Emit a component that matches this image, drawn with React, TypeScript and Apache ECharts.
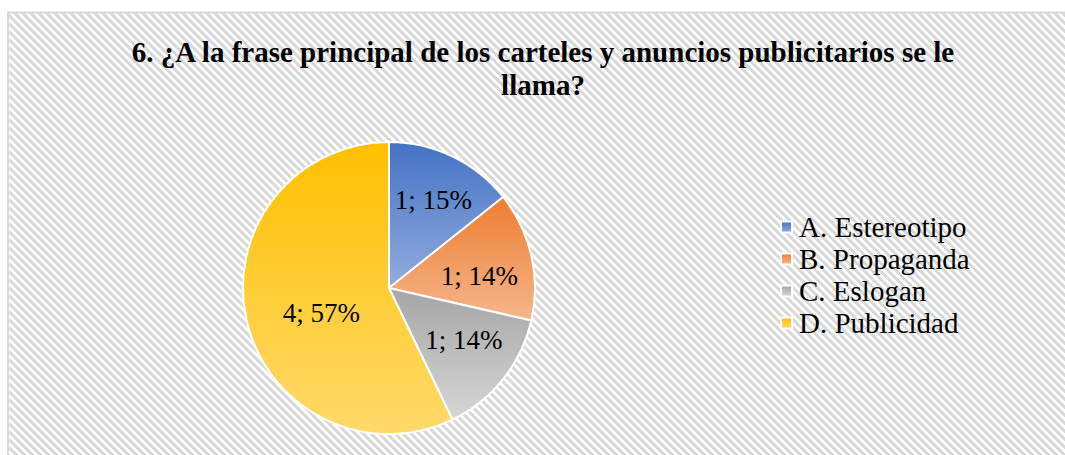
import React, { useEffect, useRef } from "react";
import * as echarts from "echarts";

const TITLE_LINES = ["6. ¿A la frase principal de los carteles y anuncios publicitarios se le", "llama?"];
const CATEGORIES = ["A. Estereotipo", "B. Propaganda", "C. Eslogan", "D. Publicidad"];
const VALUES = [1, 1, 1, 4];
const TOP_COLORS = ["#4472C4", "#ED7D31", "#A5A5A5", "#FFC000"];
const BOTTOM_COLORS = ["#92ACDD", "#F5B78C", "#D6D6D6", "#FFDA6B"];
const LABEL_RADIUS = [0.67, 0.62, 0.63, 0.49];
const LABEL_NUDGE = [[2, 0], [2, 8], [3, -5], [2, 9]];

const PCX = 389;
const PCY = 288;
const R = 146;
const FONT = "Liberation Serif";

function makePattern(): string {
  const c = document.createElement("canvas");
  c.width = 8;
  c.height = 8;
  const ctx = c.getContext("2d")!;
  ctx.fillStyle = "#ffffff";
  ctx.fillRect(0, 0, 8, 8);
  ctx.fillStyle = "#d9d9d9";
  for (let y = 0; y < 8; y++) {
    for (let x = 0; x < 8; x++) {
      if ((((x - y) % 8) + 8) % 8 < 4) ctx.fillRect(x, y, 1, 1);
    }
  }
  return c.toDataURL();
}

export default function App() {
  const ref = useRef<HTMLDivElement>(null);
  useEffect(() => {
    if (!ref.current) return;
    const chart = echarts.init(ref.current, null, { renderer: "svg" });
    const pattern = makePattern();
    const data = CATEGORIES.map((name, i) => ({
      name,
      value: VALUES[i],
      itemStyle: {
        color: new echarts.graphic.LinearGradient(0, 0, 0, 1, [
          { offset: 0, color: TOP_COLORS[i] },
          { offset: 1, color: BOTTOM_COLORS[i] },
        ]),
      },
    }));
    chart.setOption({
      animation: false,
      backgroundColor: "#ffffff",
      graphic: [
        {
          type: "rect",
          z: -10,
          silent: true,
          shape: { x: 8, y: 12.5, width: 1100, height: 500 },
          style: {
            fill: { image: pattern, repeat: "repeat" } as any,
            stroke: "#d9d9d9",
            lineWidth: 2,
          },
        },
      ],
      title: {
        text: TITLE_LINES.join("\n"),
        left: 538,
        top: 30,
        textAlign: "center",
        textStyle: {
          fontFamily: FONT,
          fontWeight: "bold",
          fontSize: 29,
          lineHeight: 33,
          color: "#000000",
        },
      },
      legend: {
        orient: "vertical",
        left: 775,
        top: 206,
        itemWidth: 11,
        itemHeight: 11,
        itemGap: 0,
        icon: "rect",
        data: CATEGORIES,
        textStyle: {
          fontFamily: FONT,
          fontSize: 29,
          lineHeight: 32,
          color: "#000000",
          padding: [0, 0, 0, 2],
        },
      },
      series: [
        {
          type: "pie",
          center: [PCX, PCY],
          radius: [0, R],
          startAngle: 90,
          clockwise: true,
          percentPrecision: 0,
          data,
          itemStyle: { borderColor: "#ffffff", borderWidth: 2 },
          label: {
            show: true,
            position: "inside",
            formatter: "{c}; {d}%",
            fontFamily: FONT,
            fontSize: 27,
            color: "#000000",
          },
          labelLine: { show: false },
          labelLayout: (params: any) => {
            const lr = params.labelRect;
            const cx = lr.x + lr.width / 2;
            const cy = lr.y + lr.height / 2;
            const dx = cx - PCX;
            const dy = cy - PCY;
            const d = Math.sqrt(dx * dx + dy * dy) || 1;
            const t = (LABEL_RADIUS[params.dataIndex] * R) / d;
            const n = LABEL_NUDGE[params.dataIndex];
            return {
              x: PCX + dx * t + n[0],
              y: PCY + dy * t + n[1],
              align: "center",
              verticalAlign: "middle",
            };
          },
          emphasis: { disabled: true },
        },
      ],
    });
    return () => chart.dispose();
  }, []);
  return (
    <div
      ref={ref}
      style={{ position: "fixed", left: 0, top: 0, width: 1065, height: 455 }}
    />
  );
}
